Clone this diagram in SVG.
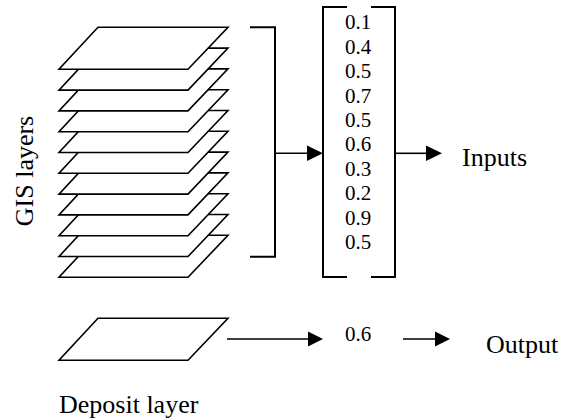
<svg xmlns="http://www.w3.org/2000/svg" width="573" height="420" viewBox="0 0 573 420">
  <style>
    .layer { fill: #ffffff; stroke: #000000; stroke-width: 1.6; stroke-linejoin: miter; }
    .brk { fill: none; stroke: #000000; stroke-width: 2; stroke-linecap: square; }
    .line { fill: none; stroke: #000000; stroke-width: 1.6; }
    .head { fill: #000000; stroke: none; }
    .lbl { font-family: "Liberation Serif", "Times New Roman", serif; font-size: 26px; fill: #000000; }
    .num { font-family: "Liberation Serif", "Times New Roman", serif; font-size: 21px; fill: #000000; }
  </style>
  <defs>
    <polygon id="layerShape" points="98,0 228,0 188,42 59,42"/>
  </defs>

  <rect width="573" height="420" fill="#ffffff"/>

  <!-- stack of GIS layers, drawn from the bottom sheet up -->
  <g id="gis-layers">
    <use href="#layerShape" class="layer" transform="translate(0,235.3)"/>
    <use href="#layerShape" class="layer" transform="translate(0,214.5)"/>
    <use href="#layerShape" class="layer" transform="translate(0,193.7)"/>
    <use href="#layerShape" class="layer" transform="translate(0,172.9)"/>
    <use href="#layerShape" class="layer" transform="translate(0,152.1)"/>
    <use href="#layerShape" class="layer" transform="translate(0,131.3)"/>
    <use href="#layerShape" class="layer" transform="translate(0,110.5)"/>
    <use href="#layerShape" class="layer" transform="translate(0,89.7)"/>
    <use href="#layerShape" class="layer" transform="translate(0,68.9)"/>
    <use href="#layerShape" class="layer" transform="translate(0,48.1)"/>
    <use href="#layerShape" class="layer" transform="translate(0,27.3)"/>
    <text class="lbl" transform="translate(33,171) rotate(-90)" text-anchor="middle">GIS layers</text>
  </g>

  <!-- grouping bracket -->
  <g id="group-bracket">
    <path class="brk" d="M251,27.3 H275 V256.7 H251"/>
  </g>

  <!-- input vector -->
  <g id="input-vector">
    <path class="brk" d="M346,7 H323 V277 H346"/>
    <path class="brk" d="M372,7 H395 V277 H372"/>
    <text class="num" x="345" y="29.3">0.1</text>
    <text class="num" x="345" y="53.7">0.4</text>
    <text class="num" x="345" y="78.1">0.5</text>
    <text class="num" x="345" y="102.5">0.7</text>
    <text class="num" x="345" y="126.9">0.5</text>
    <text class="num" x="345" y="151.3">0.6</text>
    <text class="num" x="345" y="175.7">0.3</text>
    <text class="num" x="345" y="200.1">0.2</text>
    <text class="num" x="345" y="224.5">0.9</text>
    <text class="num" x="345" y="248.9">0.5</text>
  </g>

  <g id="inputs-label">
    <text class="lbl" x="462" y="165.7">Inputs</text>
  </g>

  <!-- deposit layer -->
  <g id="deposit-layer">
    <use href="#layerShape" class="layer" transform="translate(0,318.3)"/>
    <text class="lbl" x="59" y="412.5">Deposit layer</text>
  </g>

  <g id="output-value">
    <text class="num" x="345" y="341">0.6</text>
  </g>

  <g id="output-label">
    <text class="lbl" x="486" y="353">Output</text>
  </g>

  <!-- connectors -->
  <g id="connectors">
    <line class="line" x1="275" y1="153.3" x2="308" y2="153.3"/>
    <polygon class="head" points="307,145.5 323,153.3 307,161.1"/>
    <line class="line" x1="395" y1="153.3" x2="427" y2="153.3"/>
    <polygon class="head" points="426,145.5 442,153.3 426,161.1"/>
    <line class="line" x1="227" y1="339" x2="309" y2="339"/>
    <polygon class="head" points="308,331.5 323,339 308,346.5"/>
    <line class="line" x1="403" y1="339" x2="436" y2="339"/>
    <polygon class="head" points="435,331.5 450,339 435,346.5"/>
  </g>
</svg>
